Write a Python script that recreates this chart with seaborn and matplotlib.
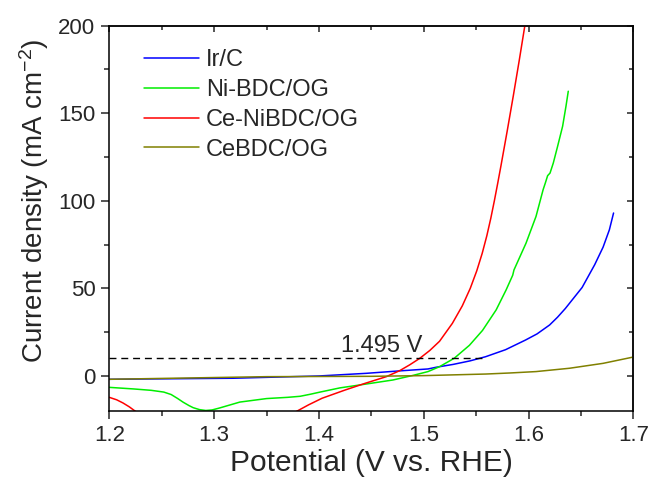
import numpy as np
import pandas as pd
import matplotlib
matplotlib.use("Agg")
import matplotlib.pyplot as plt
from matplotlib.ticker import MultipleLocator
import seaborn as sns

# Polarization curves (potential in V vs. RHE, current density in mA cm^-2)
irc_x = [1.200, 1.318, 1.400, 1.445, 1.477, 1.504, 1.512, 1.528, 1.544, 1.559,
         1.578, 1.597, 1.608, 1.620, 1.6275, 1.635, 1.651, 1.663, 1.671, 1.677,
         1.681]
irc_y = [-1.9, -1.3, 0.0, 1.5, 2.9, 4.0, 5.0, 6.6, 8.6, 11.0,
         15.0, 20.5, 24.0, 29.1, 33.5, 38.5, 50.5, 63.5, 73.5, 83.4,
         93.0]

nibdc_x = [1.200, 1.223, 1.240, 1.252, 1.259, 1.265, 1.2705, 1.276, 1.280, 1.286,
           1.292, 1.298, 1.305, 1.3245, 1.350, 1.370, 1.382, 1.392, 1.401, 1.420,
           1.445, 1.4705, 1.4895, 1.504, 1.515, 1.529, 1.5435, 1.556, 1.569, 1.5785,
           1.5848, 1.586, 1.5975, 1.607, 1.6138, 1.6159, 1.6181, 1.6204, 1.6235, 1.6276,
           1.6324, 1.6356, 1.6378]
nibdc_y = [-6.5, -7.4, -8.2, -9.2, -10.6, -12.8, -15.0, -16.9, -18.1, -19.2,
           -19.7, -19.4, -18.3, -14.9, -12.9, -12.2, -11.6, -10.4, -9.2, -6.8,
           -4.6, -2.3, 0.3, 2.5, 5.3, 10.1, 17.5, 26.0, 37.7, 49.1,
           57.5, 60.5, 75.8, 91.0, 106.3, 110.1, 114.3, 115.8, 121.5, 131.0,
           142.5, 153.9, 162.5]

cenibdc_x = [1.200, 1.207, 1.213, 1.219, 1.2254, 1.250, 1.300, 1.350, 1.378, 1.390,
             1.403, 1.425, 1.4435, 1.4642, 1.4769, 1.4864, 1.4960, 1.5058, 1.5150, 1.5272,
             1.5367, 1.5443, 1.5505, 1.5557, 1.5601, 1.5639, 1.5673, 1.5705, 1.5736, 1.5766,
             1.5796, 1.5825, 1.5854, 1.5882, 1.5910, 1.5937, 1.5964]
cenibdc_y = [-12.2, -13.6, -15.4, -17.6, -20.4, -27.0, -32.0, -27.0, -20.4, -16.5,
             -12.7, -8.0, -4.3, -0.4, 3.0, 6.3, 10.0, 14.6, 19.8, 30.0,
             40.0, 50.0, 60.0, 70.0, 80.0, 90.0, 100.0, 110.0, 120.0, 130.0,
             140.0, 150.0, 160.0, 170.0, 180.0, 190.0, 200.0]

cebdc_x = [1.200, 1.350, 1.450, 1.500, 1.559, 1.582, 1.607, 1.639, 1.671, 1.699]
cebdc_y = [-1.9, -0.4, -0.2, 0.2, 1.1, 1.7, 2.5, 4.4, 7.2, 10.7]

labels = ["Ir/C", "Ni-BDC/OG", "Ce-NiBDC/OG", "CeBDC/OG"]
colors = ["#0000ff", "#00ee00", "#ff0000", "#808000"]

ref_current = 10.0
ref_end = 1.558
onset_label = "1.495 V"

frames = []
for name, xs, ys in zip(labels,
                        [irc_x, nibdc_x, cenibdc_x, cebdc_x],
                        [irc_y, nibdc_y, cenibdc_y, cebdc_y]):
    frames.append(pd.DataFrame({"E": xs, "j": ys, "sample": name}))
df = pd.concat(frames, ignore_index=True)

sns.set_style("ticks")
plt.rcParams["font.family"] = ["Liberation Sans", "DejaVu Sans"]
plt.rcParams["mathtext.fontset"] = "custom"
plt.rcParams["mathtext.rm"] = "Liberation Sans"
plt.rcParams["mathtext.it"] = "Liberation Sans:italic"
plt.rcParams["mathtext.default"] = "regular"

fig = plt.figure(figsize=(6.57, 4.86), dpi=100)
ax = fig.add_axes([0.1664, 0.1543, 0.7978, 0.7932])

sns.lineplot(data=df, x="E", y="j", hue="sample", hue_order=labels,
             palette=dict(zip(labels, colors)), sort=False, estimator=None,
             linewidth=1.1, ax=ax)
for line in ax.get_lines():
    line.set_solid_joinstyle("round")

ax.plot([1.2, ref_end], [ref_current, ref_current], color="black",
        linestyle=(0, (5, 3.5)), linewidth=1.0)
ax.text(1.46, 13.9, onset_label, ha="center", va="baseline", fontsize=17)

ax.set_xlim(1.2, 1.7)
ax.set_ylim(-20, 200)
ax.xaxis.set_major_locator(MultipleLocator(0.1))
ax.xaxis.set_minor_locator(MultipleLocator(0.05))
ax.yaxis.set_major_locator(MultipleLocator(50))
ax.yaxis.set_minor_locator(MultipleLocator(25))
ax.set_yticks([0, 50, 100, 150, 200])
ax.set_xticks([1.2, 1.3, 1.4, 1.5, 1.6, 1.7])
ax.set_xticklabels(["1.2", "1.3", "1.4", "1.5", "1.6", "1.7"])

ax.tick_params(which="major", direction="out", length=6, width=1.1,
               labelsize=16, pad=4)
ax.tick_params(which="minor", direction="out", length=3.5, width=1.1)

# inward ticks on the top and right frame edges
top = ax.secondary_xaxis("top")
top.xaxis.set_major_locator(MultipleLocator(0.1))
top.xaxis.set_minor_locator(MultipleLocator(0.05))
top.tick_params(which="major", direction="in", length=4, width=1.1, labeltop=False)
top.tick_params(which="minor", direction="in", length=3, width=1.1)
right = ax.secondary_yaxis("right")
right.yaxis.set_major_locator(MultipleLocator(50))
right.yaxis.set_minor_locator(MultipleLocator(25))
right.tick_params(which="major", direction="in", length=4, width=1.1, labelright=False)
right.tick_params(which="minor", direction="in", length=3, width=1.1)
for s in top.spines.values():
    s.set_linewidth(1.1)
for s in right.spines.values():
    s.set_linewidth(1.1)

for s in ax.spines.values():
    s.set_visible(True)
    s.set_linewidth(1.1)
    s.set_color("black")

ax.set_xlabel("Potential (V vs. RHE)", fontsize=21.5, labelpad=2)
ax.set_ylabel("Current density (mA cm$^{-2}$)", fontsize=20)
ax.yaxis.set_label_coords(-0.111, 0.545)

leg = ax.legend(loc="upper left", bbox_to_anchor=(0.049, 0.963), frameon=False,
                fontsize=17, handlelength=2.3, handletextpad=0.3,
                labelspacing=0.33, borderaxespad=0)
for line in leg.get_lines():
    line.set_linewidth(1.1)

fig.savefig("out.png", dpi=100)
